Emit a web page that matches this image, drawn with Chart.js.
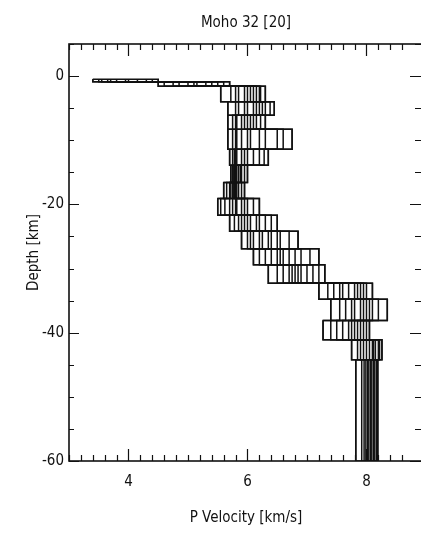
<!DOCTYPE html>
<html>
<head>
<meta charset="utf-8">
<script src="https://cdn.jsdelivr.net/npm/chart.js@4.4.1/dist/chart.umd.min.js"></script>
<style>
  html, body { margin: 0; padding: 0; background: #fff; overflow: hidden; }
  #wrap { width: 435px; height: 536px; }
</style>
</head>
<body>
<div id="wrap"><canvas id="profile"></canvas></div>
<script>
// layer boundaries (km, negative = down)
const layerDepths = [-0.5, -0.9, -1.6, -4.0, -6.1, -8.3, -11.4, -13.9, -16.6, -19.1,
  -21.7, -24.2, -26.9, -29.4, -32.3, -34.8, -38.1, -41.1, -44.2, -60];

// P velocity (km/s) of each model in each layer, top layer first
const layerVelocities = [
  [3.4, 3.5, 3.55, 3.65, 3.7, 3.8, 3.95, 4.0, 4.15, 4.3, 4.4, 4.5],
  [4.5, 4.6, 4.75, 4.85, 5.0, 5.1, 5.15, 5.3, 5.4, 5.5, 5.6, 5.7],
  [5.55, 5.72, 5.8, 5.85, 5.95, 6.0, 6.05, 6.1, 6.15, 6.2, 6.22, 6.3],
  [5.67, 5.8, 5.85, 5.95, 6.0, 6.1, 6.15, 6.2, 6.25, 6.3, 6.38, 6.45],
  [5.67, 5.75, 5.8, 5.82, 5.9, 5.95, 6.0, 6.05, 6.1, 6.15, 6.22, 6.3],
  [5.67, 5.75, 5.8, 5.82, 5.9, 6.0, 6.05, 6.2, 6.3, 6.5, 6.6, 6.75],
  [5.7, 5.75, 5.78, 5.8, 5.82, 5.9, 5.95, 6.0, 6.1, 6.2, 6.28, 6.35],
  [5.72, 5.75, 5.77, 5.78, 5.8, 5.8, 5.82, 5.85, 5.88, 5.9, 5.95, 6.0],
  [5.6, 5.65, 5.7, 5.72, 5.75, 5.77, 5.78, 5.8, 5.82, 5.85, 5.9, 5.95],
  [5.5, 5.55, 5.62, 5.7, 5.75, 5.8, 5.82, 5.9, 5.95, 6.0, 6.1, 6.2],
  [5.7, 5.78, 5.85, 5.9, 5.95, 6.0, 6.05, 6.15, 6.2, 6.3, 6.4, 6.5],
  [5.9, 6.0, 6.05, 6.1, 6.2, 6.25, 6.35, 6.4, 6.5, 6.55, 6.7, 6.85],
  [6.1, 6.2, 6.3, 6.4, 6.5, 6.55, 6.6, 6.7, 6.8, 6.9, 7.05, 7.2],
  [6.35, 6.5, 6.6, 6.7, 6.75, 6.8, 6.85, 6.9, 7.0, 7.1, 7.2, 7.3],
  [7.2, 7.35, 7.45, 7.55, 7.6, 7.7, 7.8, 7.85, 7.9, 7.95, 8.0, 8.1],
  [7.4, 7.55, 7.65, 7.75, 7.8, 7.9, 7.95, 8.0, 8.05, 8.1, 8.2, 8.35],
  [7.27, 7.4, 7.5, 7.6, 7.7, 7.75, 7.8, 7.85, 7.9, 7.95, 8.0, 8.05],
  [7.75, 7.85, 7.9, 7.95, 8.0, 8.05, 8.1, 8.12, 8.15, 8.2, 8.22, 8.26],
  [7.82, 7.92, 7.96, 7.99, 8.02, 8.04, 8.07, 8.09, 8.12, 8.14, 8.17, 8.19]
];

const velocityTicks = [4, 6, 8];
const depthTicks = [0, -20, -40, -60];

const FONT = "'Liberation Sans Narrow', 'DejaVu Sans Condensed', sans-serif";
const INK = '#111';

const modelCount = layerVelocities[0].length;
const datasets = [];

// one stepped profile per model
for (let m = 0; m < modelCount; m++) {
  const pts = [];
  layerVelocities.forEach((row, i) => {
    pts.push({ x: row[m], y: layerDepths[i] });
    pts.push({ x: row[m], y: layerDepths[i + 1] });
  });
  datasets.push({ data: pts, showLine: true, borderColor: INK, borderWidth: 1.5, pointRadius: 0 });
}

// outline box around the spread of each layer
layerVelocities.forEach((row, i) => {
  const lo = Math.min(...row), hi = Math.max(...row);
  const t = layerDepths[i], b = layerDepths[i + 1];
  datasets.push({
    data: [{ x: lo, y: t }, { x: hi, y: t }, { x: hi, y: b }, { x: lo, y: b }, { x: lo, y: t }],
    showLine: true, borderColor: INK, borderWidth: 1.5, pointRadius: 0
  });
});

const near = (v, list) => list.some(t => Math.abs(v - t) < 1e-6);

// frame with inward ticks on all four sides
const frame = {
  id: 'frame',
  afterDraw(chart) {
    const { ctx, chartArea: { left, right, top, bottom }, scales: { x, y } } = chart;
    ctx.save();
    ctx.strokeStyle = INK;
    ctx.lineWidth = 1.6;
    ctx.strokeRect(left, top, right - left, bottom - top);
    ctx.lineWidth = 1.2;
    ctx.beginPath();
    x.ticks.forEach(t => {
      const px = Math.round(x.getPixelForValue(t.value)) + 0.5;
      const len = near(t.value, velocityTicks) ? 12 : 6;
      ctx.moveTo(px, top); ctx.lineTo(px, top + len);
      ctx.moveTo(px, bottom); ctx.lineTo(px, bottom - len);
    });
    y.ticks.forEach(t => {
      const py = Math.round(y.getPixelForValue(t.value)) + 0.5;
      const len = near(t.value, depthTicks) ? 10 : 5;
      ctx.moveTo(left, py); ctx.lineTo(left + len, py);
      ctx.moveTo(right, py); ctx.lineTo(right - len - 3, py);
    });
    ctx.stroke();
    ctx.restore();
  }
};

new Chart(document.getElementById('profile'), {
  type: 'scatter',
  data: { datasets },
  plugins: [frame],
  options: {
    responsive: true,
    maintainAspectRatio: false,
    animation: false,
    layout: { padding: 0 },
    plugins: {
      legend: { display: false },
      tooltip: { enabled: false },
      title: {
        display: true,
        fullSize: false,
        text: 'Moho 32 [20]',
        color: INK,
        font: { family: FONT, size: 15, weight: 'normal' },
        padding: { top: 14, bottom: 12 }
      }
    },
    scales: {
      x: {
        type: 'linear',
        min: 3, max: 8.95,
        border: { display: false },
        grid: { display: false, drawTicks: false },
        ticks: {
          stepSize: 0.2,
          autoSkip: false,
          maxRotation: 0,
          padding: 12,
          color: INK,
          font: { family: FONT, size: 15 },
          callback: v => near(v, velocityTicks) ? String(Math.round(v)) : ''
        },
        title: {
          display: true,
          text: 'P Velocity [km/s]',
          color: INK,
          font: { family: FONT, size: 15 },
          padding: { top: 4, bottom: 9 }
        },
        afterFit: s => { s.height = 75; }
      },
      y: {
        type: 'linear',
        min: -60, max: 5,
        border: { display: false },
        grid: { display: false, drawTicks: false },
        ticks: {
          stepSize: 5,
          autoSkip: false,
          padding: 5,
          color: INK,
          font: { family: FONT, size: 15 },
          callback: v => near(v, depthTicks) ? String(v) : ''
        },
        title: {
          display: true,
          text: 'Depth [km]',
          color: INK,
          font: { family: FONT, size: 15 },
          padding: { top: 25, bottom: 0 }
        },
        afterFit: s => { s.width = 69; }
      }
    }
  }
});
</script>
</body>
</html>
